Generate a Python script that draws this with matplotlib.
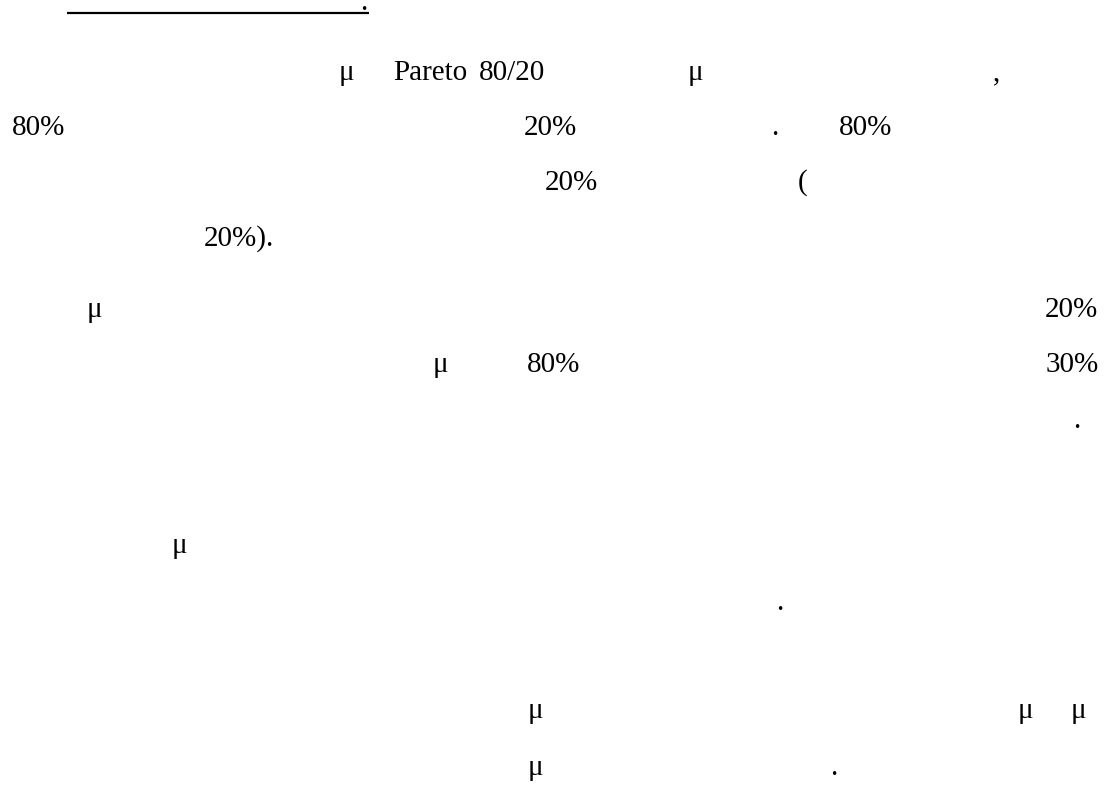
import matplotlib
matplotlib.use("Agg")
import matplotlib.pyplot as plt
from matplotlib.font_manager import FontProperties

# Visible text fragments of the page: (text, left x in px, baseline y in px)
texts = ["μ", "Pareto", "80/20", "μ", ",",
         "80%", "20%", ".", "80%",
         "20%", "(",
         "20%).",
         "μ", "20%",
         "μ", "80%", "30%",
         ".",
         "μ",
         ".",
         "μ", "μ", "μ",
         "μ", "."]
x_pos = [339, 393, 479, 688, 993,
         12, 524, 771.5, 839,
         545, 798,
         204,
         87, 1045,
         433, 527, 1046,
         1073.5,
         172,
         776.5,
         528, 1018, 1071,
         528, 830.5]
y_base = [80, 80, 80, 80, 80,
          135, 135, 135, 135,
          190, 190,
          246,
          317, 317,
          372, 372, 372,
          428,
          553,
          610,
          718, 718, 718,
          775, 775]

# Underlined heading (only its final period is visible)
head_text = "."
head_x = 360.5
head_y = 10
underline_x = [67, 369]
underline_y = [12.7, 12.7]

W, H = 1112, 787
fig = plt.figure(figsize=(W / 100, H / 100), dpi=100)
ax = fig.add_axes([0, 0, 1, 1])
ax.set_xlim(0, W)
ax.set_ylim(H, 0)
ax.axis("off")

FS = 21
FAMILY = ["Liberation Serif", "DejaVu Serif"]
prop = FontProperties(family=FAMILY, size=FS)

for t, x, y in zip(texts, x_pos, y_base):
    ax.text(x, y, t, fontproperties=prop, ha="left", va="baseline",
            color="black")

ax.text(head_x, head_y, head_text, fontproperties=prop, ha="left",
        va="baseline", color="black")
ax.plot(underline_x, underline_y, color="black", lw=1.6, solid_capstyle="butt")

fig.savefig("out.png", dpi=100, facecolor="white")
